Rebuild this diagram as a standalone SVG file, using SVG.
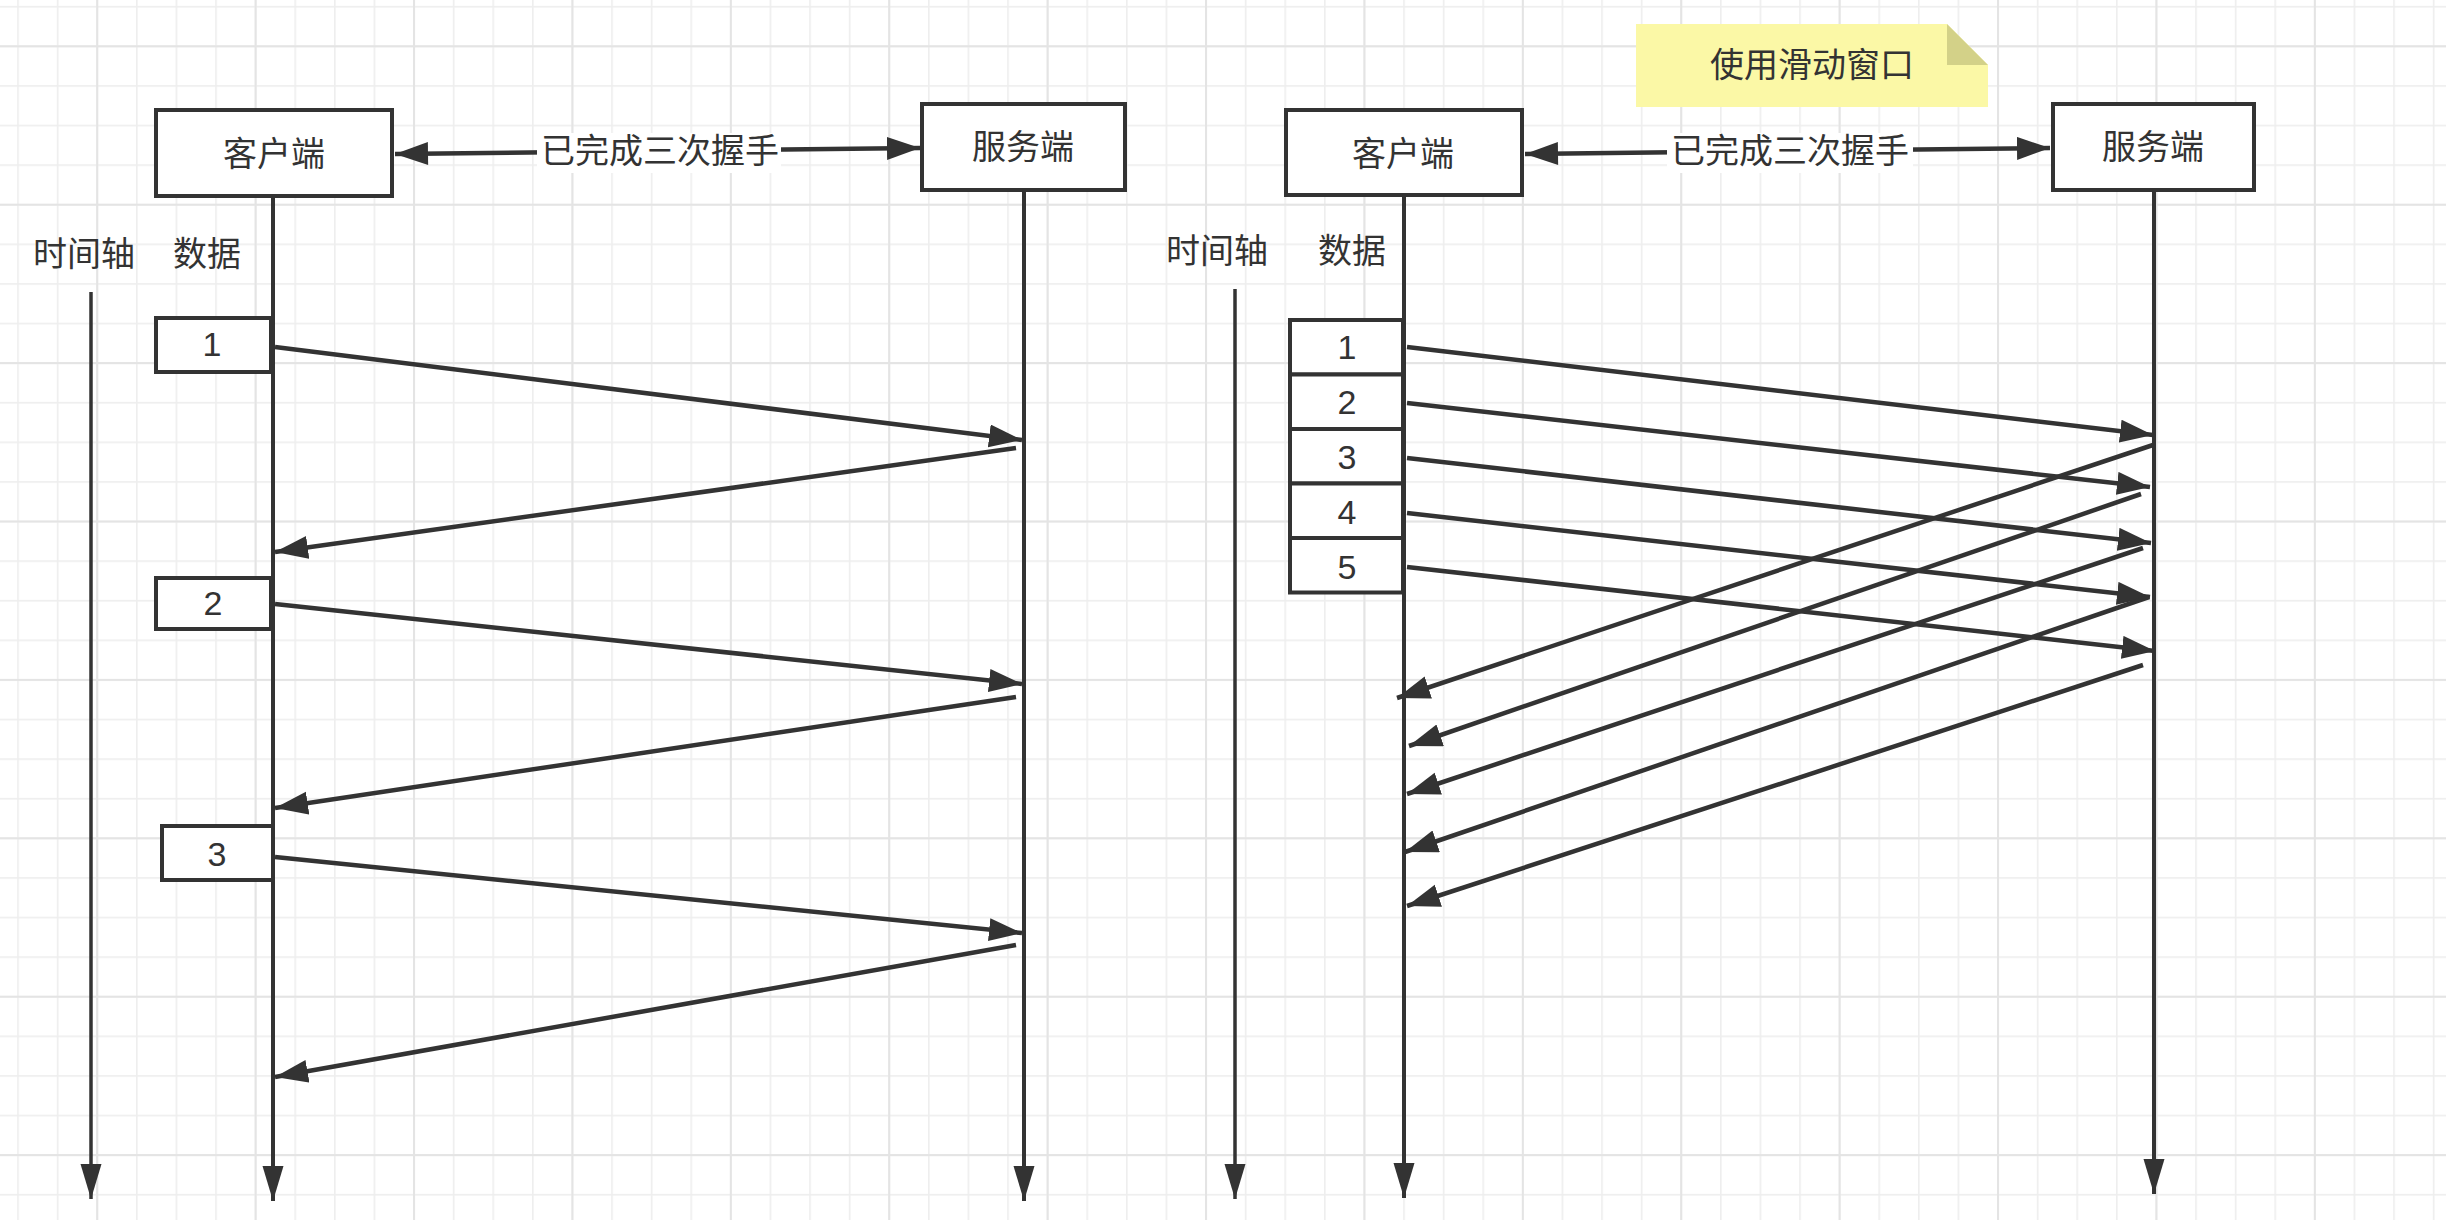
<svg xmlns="http://www.w3.org/2000/svg" width="2446" height="1220" viewBox="0 0 2446 1220">
<style>
text{font-family:'Liberation Sans','Noto Sans CJK SC',sans-serif;font-size:34px;fill:#333333;text-anchor:middle}
.box{fill:#ffffff;stroke:#333333;stroke-width:4}
.ln{stroke:#333333;stroke-width:4.5;fill:none}
.life{stroke:#333333;stroke-width:4;fill:none}
.tax{stroke:#333333;stroke-width:3.5;fill:none}
</style>
<defs>
<pattern id="gmin" patternUnits="userSpaceOnUse" x="17.2" y="5.9" width="39.6" height="39.6">
<rect x="0" y="0" width="1.6" height="39.6" fill="#eeeeee"/>
<rect x="0" y="0" width="39.6" height="1.6" fill="#eeeeee"/>
</pattern>
<pattern id="gmaj" patternUnits="userSpaceOnUse" x="96.2" y="45.3" width="158.4" height="158.4">
<rect x="0" y="0" width="2" height="158.4" fill="#e4e4e4"/>
<rect x="0" y="0" width="158.4" height="2" fill="#e4e4e4"/>
</pattern>
<marker id="blk" markerUnits="userSpaceOnUse" markerWidth="34" markerHeight="24" refX="33" refY="11.5" orient="auto">
<path d="M0,0 L33,11.5 L0,23 z" fill="#333333"/>
</marker>
<marker id="blks" markerUnits="userSpaceOnUse" markerWidth="34" markerHeight="24" refX="0" refY="11.5" orient="auto">
<path d="M33,0 L0,11.5 L33,23 z" fill="#333333"/>
</marker>
<marker id="lif" markerUnits="userSpaceOnUse" markerWidth="36" markerHeight="22" refX="35" refY="10.5" orient="auto">
<path d="M0,0 L35,10.5 L0,21 z" fill="#333333"/>
</marker>
</defs>
<rect x="0" y="0" width="2446" height="1220" fill="#ffffff"/>
<rect x="0" y="0" width="2446" height="1220" fill="url(#gmin)"/>
<rect x="0" y="0" width="2446" height="1220" fill="url(#gmaj)"/>

<g id="note">
<path d="M1636,24 H1947 L1988,65 V107 H1636 Z" fill="#fbf8a6"/>
<path d="M1947,24 V65 H1988 Z" fill="#d3d188"/>
<text x="1812" y="77">使用滑动窗口</text>
</g>

<g id="client-left">
<rect class="box" x="156" y="110" width="236" height="86"/>
<text x="274" y="166">客户端</text>
</g>
<g id="server-left">
<rect class="box" x="922" y="104" width="203" height="86"/>
<text x="1023" y="159">服务端</text>
</g>
<g id="timeaxis-label-left"><text x="84" y="266">时间轴</text></g>
<g id="data-label-left"><text x="207" y="266">数据</text></g>
<g id="data1-left">
<rect class="box" x="156" y="318" width="115" height="54"/>
<text x="212" y="356">1</text>
</g>
<g id="data2-left">
<rect class="box" x="156" y="578" width="115" height="51"/>
<text x="213" y="615">2</text>
</g>
<g id="data3-left">
<rect class="box" x="162" y="826" width="111" height="54"/>
<text x="217" y="866">3</text>
</g>

<g id="client-right">
<rect class="box" x="1286" y="110" width="236" height="85"/>
<text x="1403" y="166">客户端</text>
</g>
<g id="server-right">
<rect class="box" x="2053" y="104" width="201" height="86"/>
<text x="2153" y="159">服务端</text>
</g>
<g id="timeaxis-label-right"><text x="1217" y="263">时间轴</text></g>
<g id="data-label-right"><text x="1352" y="263">数据</text></g>
<g id="data1-right"><rect class="box" x="1290" y="320" width="113" height="54.5"/><text x="1347" y="359">1</text></g>
<g id="data2-right"><rect class="box" x="1290" y="374.5" width="113" height="54.5"/><text x="1347" y="414">2</text></g>
<g id="data3-right"><rect class="box" x="1290" y="429" width="113" height="54.5"/><text x="1347" y="469">3</text></g>
<g id="data4-right"><rect class="box" x="1290" y="483.5" width="113" height="54.5"/><text x="1347" y="524">4</text></g>
<g id="data5-right"><rect class="box" x="1290" y="538" width="113" height="54.5"/><text x="1347" y="579">5</text></g>

<g id="connectors">
<line class="tax" x1="91" y1="292" x2="91" y2="1199" marker-end="url(#lif)"/>
<line class="life" x1="273" y1="198" x2="273" y2="1201" marker-end="url(#lif)"/>
<line class="life" x1="1024" y1="192" x2="1024" y2="1201" marker-end="url(#lif)"/>
<line class="tax" x1="1235" y1="289" x2="1235" y2="1199" marker-end="url(#lif)"/>
<line class="life" x1="1404" y1="197" x2="1404" y2="1198" marker-end="url(#lif)"/>
<line class="life" x1="2154" y1="192" x2="2154" y2="1194" marker-end="url(#lif)"/>

<line class="ln" x1="395" y1="154" x2="920" y2="148" marker-start="url(#blks)" marker-end="url(#blk)"/>
<rect x="537" y="133" width="244" height="40" fill="#ffffff"/>
<text x="660" y="163">已完成三次握手</text>

<line class="ln" x1="1525" y1="154" x2="2050" y2="148" marker-start="url(#blks)" marker-end="url(#blk)"/>
<rect x="1667" y="133" width="246" height="40" fill="#ffffff"/>
<text x="1790" y="163">已完成三次握手</text>

<line class="ln" x1="275" y1="347" x2="1022" y2="440" marker-end="url(#blk)"/>
<line class="ln" x1="1016" y1="448" x2="275" y2="552" marker-end="url(#blk)"/>
<line class="ln" x1="275" y1="604" x2="1022" y2="684" marker-end="url(#blk)"/>
<line class="ln" x1="1016" y1="697" x2="275" y2="808" marker-end="url(#blk)"/>
<line class="ln" x1="275" y1="857" x2="1022" y2="933" marker-end="url(#blk)"/>
<line class="ln" x1="1016" y1="945" x2="275" y2="1077" marker-end="url(#blk)"/>

<line class="ln" x1="1407" y1="347" x2="2153" y2="435" marker-end="url(#blk)"/>
<line class="ln" x1="1407" y1="403" x2="2150" y2="487" marker-end="url(#blk)"/>
<line class="ln" x1="1407" y1="458" x2="2151" y2="543" marker-end="url(#blk)"/>
<line class="ln" x1="1407" y1="513" x2="2150" y2="597" marker-end="url(#blk)"/>
<line class="ln" x1="1407" y1="567" x2="2155" y2="651" marker-end="url(#blk)"/>
<line class="ln" x1="2153" y1="445" x2="1397" y2="698" marker-end="url(#blk)"/>
<line class="ln" x1="2141" y1="494" x2="1409" y2="746" marker-end="url(#blk)"/>
<line class="ln" x1="2143" y1="548" x2="1407" y2="794" marker-end="url(#blk)"/>
<line class="ln" x1="2149" y1="597" x2="1405" y2="852" marker-end="url(#blk)"/>
<line class="ln" x1="2143" y1="665" x2="1407" y2="906" marker-end="url(#blk)"/>
</g>
</svg>
